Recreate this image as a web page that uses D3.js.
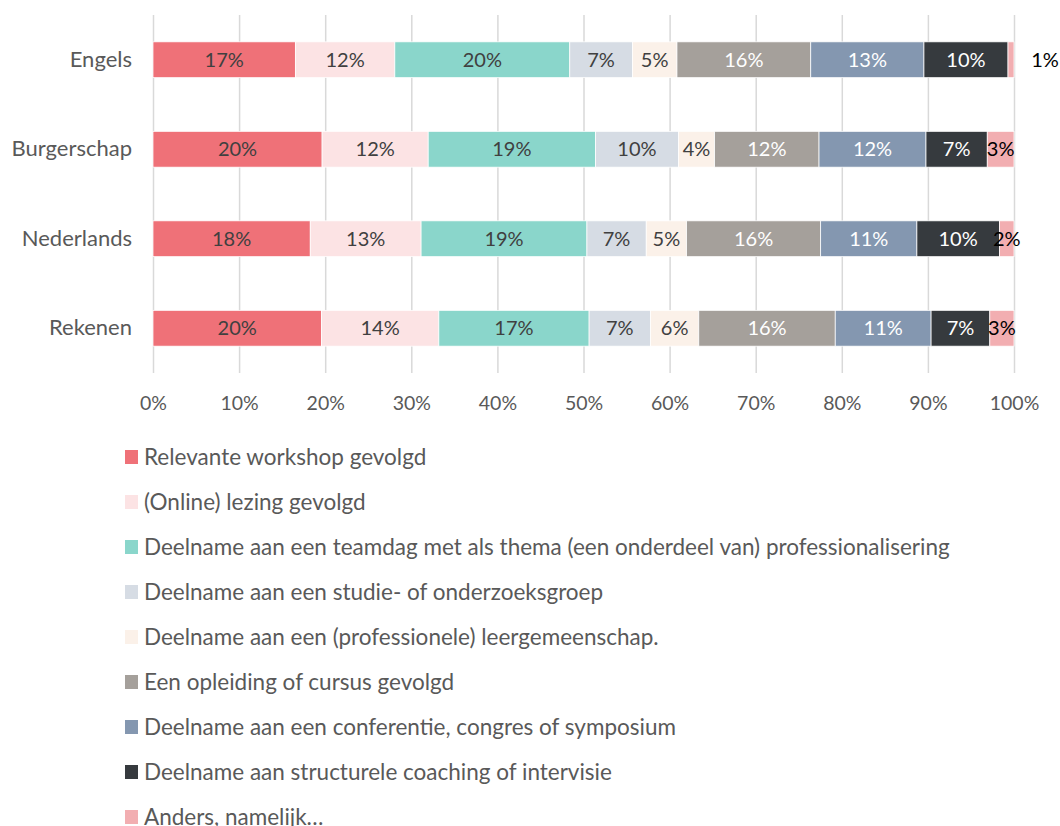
<!DOCTYPE html>
<html>
<head>
<meta charset="utf-8">
<script src="https://cdn.jsdelivr.net/npm/d3@7"></script>
<style>
  body { margin: 0; background: #fff; }
  svg text { font-family: Lato, "Open Sans", sans-serif; }
</style>
</head>
<body>
<div id="wrapper"></div>
<script>
const categories = ["Engels", "Burgerschap", "Nederlands", "Rekenen"]

const seriesNames = [
  "Relevante workshop gevolgd",
  "(Online) lezing gevolgd",
  "Deelname aan een teamdag met als thema (een onderdeel van) professionalisering",
  "Deelname aan een studie- of onderzoeksgroep",
  "Deelname aan een (professionele) leergemeenschap.",
  "Een opleiding of cursus gevolgd",
  "Deelname aan een conferentie, congres of symposium",
  "Deelname aan structurele coaching of intervisie",
  "Anders, namelijk…",
]

// percentages per category, in series order
const engels = [16.6, 11.6, 20.4, 7.3, 5.2, 15.6, 13.2, 9.8, 0.7]
const burgerschap = [19.6, 12.3, 19.4, 9.6, 4.2, 12.1, 12.4, 7.1, 3.1]
const nederlands = [18.3, 12.9, 19.3, 6.9, 4.7, 15.6, 11.2, 9.6, 1.7]
const rekenen = [19.5, 13.6, 17.4, 7.1, 5.6, 15.8, 11.1, 6.8, 2.8]

const xTicks = [0, 0.1, 0.2, 0.3, 0.4, 0.5, 0.6, 0.7, 0.8, 0.9, 1]

const colors = ["#ef7178", "#fce3e4", "#8ad6cb", "#d6dce4", "#fbf1e9",
  "#a5a09b", "#8497b0", "#363a3e", "#f2aeb1"]
const labelColors = ["#404040", "#404040", "#404040", "#404040", "#404040",
  "#ffffff", "#ffffff", "#ffffff", "#000000"]

const renderChart = () => {
  const valuesByCat = [engels, burgerschap, nederlands, rekenen]
  const table = categories.map((c, i) => {
    const row = { cat: c }
    seriesNames.forEach((s, j) => (row[s] = valuesByCat[i][j]))
    return row
  })

  const dimensions = {
    width: 1060,
    height: 826,
    margins: { top: 15, right: 46, bottom: 453, left: 153 },
  }
  dimensions.boundedWidth =
    dimensions.width - dimensions.margins.left - dimensions.margins.right
  dimensions.boundedHeight =
    dimensions.height - dimensions.margins.top - dimensions.margins.bottom

  const svg = d3
    .select("#wrapper")
    .append("svg")
    .attr("width", dimensions.width)
    .attr("height", dimensions.height)

  const bounds = svg
    .append("g")
    .attr("transform", `translate(${dimensions.margins.left},${dimensions.margins.top})`)

  const stack = d3.stack().keys(seriesNames).offset(d3.stackOffsetExpand)
  const series = stack(table)

  const xScale = d3.scaleLinear().domain([0, 1]).range([0, dimensions.boundedWidth])
  const yScale = d3
    .scaleBand()
    .domain(categories)
    .range([0, dimensions.boundedHeight])
    .paddingInner(0.6)
    .paddingOuter(0.3)

  // gridlines + x axis
  const xAxis = d3
    .axisBottom(xScale)
    .tickValues(xTicks)
    .tickFormat(d3.format(".0%"))
    .tickSize(dimensions.boundedHeight)
    .tickPadding(23)
  const xAxisG = bounds.append("g").call(xAxis)
  xAxisG.select(".domain").remove()
  xAxisG.selectAll(".tick line").attr("stroke", "#d9d9d9").attr("stroke-width", 1.5)
  xAxisG
    .selectAll(".tick text")
    .attr("fill", "#595959")
    .style("font-size", "19.5px")

  // y axis
  const yAxis = d3.axisLeft(yScale).tickSize(0).tickPadding(21)
  const yAxisG = bounds.append("g").call(yAxis)
  yAxisG.select(".domain").remove()
  yAxisG.selectAll(".tick text").attr("fill", "#595959").style("font-size", "22px")

  // bars
  const fmt = d3.format(".0f")
  const layers = bounds
    .selectAll(".layer")
    .data(series)
    .join("g")
    .attr("class", "layer")

  layers
    .selectAll("rect")
    .data((d) => d)
    .join("rect")
    .attr("x", (d) => xScale(d[0]))
    .attr("y", (d) => yScale(d.data.cat))
    .attr("width", (d) => xScale(d[1]) - xScale(d[0]))
    .attr("height", yScale.bandwidth())
    .attr("fill", function () {
      return colors[d3.select(this.parentNode).datum().index]
    })
    .attr("stroke", "#ffffff")
    .attr("stroke-width", 0.75)

  layers
    .selectAll("text")
    .data((d) => d.map((p) => ({ p, key: d.key, index: d.index })))
    .join("text")
    .attr("x", (d) => {
      const w = xScale(d.p[1]) - xScale(d.p[0])
      // the thinnest end piece has its label outside the bar
      if (d.index === seriesNames.length - 1 && w < 8) return xScale(d.p[1]) + 31
      return (xScale(d.p[0]) + xScale(d.p[1])) / 2
    })
    .attr("y", (d) => yScale(d.p.data.cat) + yScale.bandwidth() / 2)
    .attr("dy", "0.35em")
    .attr("text-anchor", "middle")
    .attr("fill", (d) => labelColors[d.index])
    .style("font-size", "20px")
    .text((d) => fmt(d.p.data[d.key]) + "%")

  // legend
  const legend = svg
    .append("g")
    .attr("transform", "translate(125,457)")
  const items = legend
    .selectAll("g")
    .data(seriesNames)
    .join("g")
    .attr("transform", (d, i) => `translate(0,${i * 45})`)
  items
    .append("rect")
    .attr("x", 0)
    .attr("y", -7)
    .attr("width", 13)
    .attr("height", 14)
    .attr("fill", (d, i) => colors[i])
  items
    .append("text")
    .attr("x", 19)
    .attr("dy", "0.35em")
    .attr("fill", "#595959")
    .style("font-size", "22.5px")
    .text((d) => d)
}

renderChart()
</script>
</body>
</html>
